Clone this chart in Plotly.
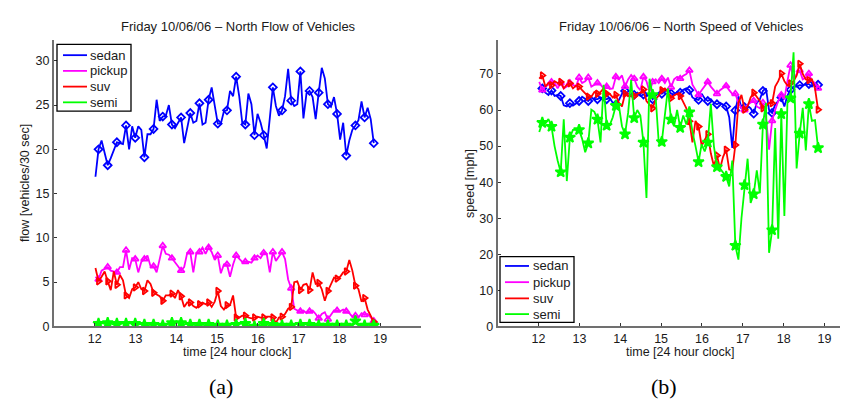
import plotly.graph_objects as go

W, H = 848, 404

# sample times: minutes after 12:00
minutes_after_noon = [
    1, 5.5, 10, 14.5, 19, 23.5, 28, 32.5, 37, 41.5,
    46, 50.5, 55, 59.5, 64, 68.5, 73, 77.5, 82, 86.5,
    91, 95.5, 100, 104.5, 109, 113.5, 118, 122.5, 127, 131.5,
    136, 140.5, 145, 149.5, 154, 158.5, 163, 167.5, 172, 176.5,
    181, 185.5, 190, 194.5, 199, 203.5, 208, 212.5, 217, 221.5,
    226, 230.5, 235, 239.5, 244, 248.5, 253, 257.5, 262, 266.5,
    271, 275.5, 280, 284.5, 289, 293.5, 298, 302.5, 307, 311.5,
    316, 320.5, 325, 329.5, 334, 338.5, 343, 347.5, 352, 356.5,
    361, 365.5, 370, 374.5, 379, 383.5, 388, 392.5, 397, 401.5,
    406, 410.5,
]
time_hr = [12 + m / 60 for m in minutes_after_noon]

# ---- flow [vehicles/30 sec] ----
flow_sedan = [
    16.9, 20.0, 21.0, 19.6, 18.2, 19.0, 20.0, 20.8, 20.7, 20.6,
    22.7, 20.0, 22.6, 21.3, 22.6, 22.2, 19.1, 21.7, 21.7, 22.3,
    25.6, 23.2, 23.7, 23.8, 25.0, 22.8, 22.4, 23.0, 23.6, 20.7,
    22.5, 24.1, 23.0, 23.2, 25.2, 22.8, 23.0, 25.6, 27.0, 25.0,
    22.9, 22.9, 24.3, 24.4, 26.6, 26.0, 28.2, 26.0, 23.0, 22.8,
    26.3, 25.1, 21.6, 24.0, 23.0, 21.6, 20.1, 23.5, 27.0, 24.9,
    23.8, 24.4, 26.0, 29.1, 25.5, 24.9, 25.1, 28.8, 23.5, 26.3,
    26.6, 25.9, 23.4, 26.4, 29.2, 28.0, 25.1, 24.8, 25.9, 24.0,
    21.1, 23.0, 19.3, 21.0, 22.2, 22.7, 23.3, 25.4, 23.6, 24.7,
    23.4, 20.7,
]
flow_pickup = [
    5.6, 5.3, 6.3, 6.5, 6.7, 6.3, 6.2, 6.1, 6.7, 6.7,
    8.6, 6.4, 7.7, 7.6, 6.1, 7.3, 7.6, 8.0, 6.8, 6.8,
    6.1, 7.5, 9.1, 8.2, 8.1, 7.7, 7.3, 6.8, 6.3, 6.7,
    8.3, 8.4, 6.1, 8.3, 8.4, 8.9, 8.2, 8.9, 8.4, 7.5,
    8.0, 6.0, 7.0, 7.0, 5.6, 7.0, 8.0, 7.6, 7.3, 7.3,
    7.3, 7.2, 7.7, 8.0, 7.7, 8.3, 8.2, 6.1, 8.4, 7.4,
    7.9, 8.4, 7.6, 5.3, 4.3, 2.0, 1.8, 1.7, 1.8, 1.5,
    1.7, 1.8, 1.4, 0.9, 1.4, 1.6, 0.8, 1.3, 1.8, 1.8,
    1.7, 1.9, 1.7, 1.5, 1.1, 1.2, 1.0, 1.5, 1.3, 1.4,
    1.0, 0.6,
]
flow_suv = [
    6.6, 5.1, 5.6, 6.2, 5.1, 4.1, 6.2, 4.7, 5.8, 5.2,
    3.5, 3.2, 4.2, 4.4, 5.0, 4.2, 4.0, 5.2, 4.8, 3.8,
    3.6, 3.4, 2.9, 3.5, 3.5, 3.7, 3.2, 4.1, 3.4, 2.2,
    2.7, 2.7, 2.3, 2.1, 2.5, 2.7, 2.5, 2.7, 2.2, 2.8,
    4.0, 2.3, 1.9, 2.4, 2.4, 3.5, 1.0, 1.0, 1.2, 1.2,
    1.0, 0.9, 1.0, 1.1, 1.0, 1.0, 1.1, 1.1, 1.0, 0.4,
    1.0, 1.1, 1.4, 2.0, 2.2, 5.0, 5.1, 4.1, 4.7, 4.8,
    4.1, 6.1, 4.8, 4.9, 4.2, 2.9, 4.0, 4.8, 5.5, 5.4,
    5.6, 6.1, 6.2, 7.5, 6.3, 4.6, 4.2, 2.8, 3.2, 1.9,
    1.2, 0.5,
]
flow_semi = [
    0.2, 0.3, 0.4, 0.3, 0.4, 0.3, 0.2, 0.3, 0.2, 0.4,
    0.3, 0.5, 0.2, 0.3, 0.2, 0.3, 0.2, 0.1, 0.2, 0.2,
    0.3, 0.1, 0.1, 0.2, 0.3, 0.4, 0.3, 0.5, 0.4, 0.2,
    0.3, 0.2, 0.2, 0.1, 0.2, 0.2, 0.1, 0.2, 0.1, 0.1,
    0.1, 0.2, 0.1, 0.1, 0.2, 0.3, 0.2, 0.4, 0.3, 0.3,
    0.1, 0.1, 0.0, 0.2, 0.1, 0.3, 0.2, 0.1, 0.2, 0.1,
    0.1, 0.1, 0.0, 0.1, 0.1, 0.2, 0.3, 0.2, 0.1, 0.3,
    0.2, 0.1, 0.1, 0.1, 0.0, 0.2, 0.1, 0.3, 0.1, 0.1,
    0.1, 0.0, 0.1, 0.1, 0.1, 0.6, 0.2, 0.1, 0.1, 0.3,
    0.1, 0.1,
]

# ---- speed [mph] ----
speed_sedan = [
    65.0, 66.0, 64.8, 64.2, 65.4, 63.9, 64.2, 63.9, 61.3, 61.0,
    61.9, 61.2, 61.8, 62.5, 63.7, 63.2, 62.5, 63.5, 63.0, 63.0,
    63.5, 63.0, 63.0, 63.3, 62.0, 61.5, 62.8, 64.5, 65.3, 64.0,
    63.8, 64.2, 64.8, 63.9, 64.3, 63.8, 64.5, 63.0, 64.0, 64.8,
    64.5, 65.2, 65.8, 64.6, 64.2, 65.0, 64.8, 65.6, 66.0, 65.5,
    63.5, 63.0, 62.8, 64.5, 63.2, 62.5, 63.0, 62.0, 61.6, 62.0,
    61.5, 61.0, 58.0, 49.5, 59.9, 63.8, 60.6, 60.8, 61.2, 60.5,
    59.0, 62.0, 63.0, 65.3, 66.0, 60.0, 59.2, 61.5, 62.5, 63.5,
    61.0, 64.0, 65.6, 66.5, 66.5, 66.9, 66.8, 67.2, 67.2, 66.5,
    67.5, 67.0,
]
speed_pickup = [
    67.8, 65.5, 66.5, 67.0, 67.8, 67.5, 66.0, 67.5, 66.0, 66.5,
    67.5, 67.0, 66.5, 69.0, 67.5, 68.0, 69.0, 66.5, 67.0, 67.5,
    67.0, 66.0, 66.5, 65.8, 66.0, 69.2, 68.5, 69.6, 66.5, 68.5,
    69.7, 68.7, 66.5, 65.5, 69.2, 68.0, 65.0, 67.8, 68.5, 67.5,
    68.7, 67.5, 69.0, 66.3, 68.5, 69.2, 68.7, 69.5, 70.0, 71.0,
    67.0, 65.5, 64.2, 65.5, 66.5, 67.8, 66.5, 65.5, 64.5, 65.5,
    66.0, 66.7, 65.5, 64.5, 64.5, 62.0, 60.5, 60.0, 61.5, 62.0,
    62.6, 61.0, 60.5, 62.0, 58.0, 49.0, 57.0, 60.0, 62.5, 64.2,
    63.0, 68.0, 72.4, 68.5, 70.0, 71.0, 68.5, 69.0, 70.1, 68.0,
    67.5, 66.0,
]
speed_suv = [
    68.7, 69.6, 66.5, 67.5, 66.9, 68.0, 67.5, 67.8, 66.0, 67.0,
    67.4, 66.0, 66.8, 66.5, 65.5, 64.5, 63.7, 63.7, 65.0, 64.5,
    65.0, 66.0, 64.5, 64.5, 63.5, 64.2, 62.0, 61.0, 64.5, 63.8,
    64.0, 63.9, 64.5, 64.8, 65.7, 62.5, 61.5, 60.5, 63.0, 64.0,
    65.5, 66.0, 65.0, 63.3, 64.0, 64.5, 63.9, 62.0, 60.5, 56.9,
    51.0, 57.0, 55.4, 50.1, 51.5, 53.3, 48.0, 44.5, 47.4, 43.7,
    47.0, 49.0, 43.5, 43.3, 50.3, 62.0, 64.2, 60.1, 61.0, 63.5,
    64.8, 63.5, 62.5, 60.5, 61.0, 62.0, 61.9, 66.5, 68.0, 70.1,
    68.0, 66.8, 67.4, 68.0, 69.5, 72.8, 70.0, 68.5, 68.3, 68.5,
    66.0, 60.1,
]
speed_semi = [
    53.9, 56.5, 56.3, 57.5, 55.4, 50.0, 46.0, 42.8, 57.4, 40.3,
    52.4, 54.5, 54.5, 54.5, 52.0, 48.3, 50.8, 60.1, 59.5, 57.4,
    51.0, 67.0, 55.7, 55.8, 58.0, 61.2, 61.2, 55.5, 53.3, 59.2,
    68.3, 57.8, 60.0, 58.5, 51.0, 35.6, 68.7, 64.2, 63.5, 51.0,
    51.2, 58.0, 66.0, 57.4, 55.5, 60.0, 55.1, 58.5, 56.0, 59.4,
    54.0, 50.0, 45.6, 50.5, 48.5, 51.0, 61.7, 50.0, 44.2, 43.8,
    42.5, 41.5, 38.8, 46.0, 22.4, 18.5, 30.0, 39.2, 46.5, 34.2,
    36.7, 43.3, 36.9, 56.0, 62.0, 20.4, 26.7, 55.0, 24.3, 58.9,
    30.6, 62.0, 63.3, 76.0, 43.8, 53.5, 60.6, 48.8, 61.7, 57.0,
    57.2, 49.5,
]

series_names = ["sedan", "pickup", "suv", "semi"]
flow_data = [flow_sedan, flow_pickup, flow_suv, flow_semi]
speed_data = [speed_sedan, speed_pickup, speed_suv, speed_semi]
colors = ["#0000ff", "#ff00ff", "#ff0000", "#00ff00"]
symbols = ["diamond-open", "triangle-up-open", "triangle-right-open", "star"]
msizes = [6, 6, 6, 8]

fig = go.Figure()

for name, fv, sv, col, sym, ms in zip(series_names, flow_data, speed_data, colors, symbols, msizes):
    for vals, xa, ya in ((fv, "x", "y"), (sv, "x2", "y2")):
        t = time_hr[:len(vals)]
        fig.add_trace(go.Scatter(
            x=t, y=vals, mode="lines", line=dict(color=col, width=1.8),
            xaxis=xa, yaxis=ya, showlegend=False, hoverinfo="skip"))
        fig.add_trace(go.Scatter(
            x=t[1::3], y=vals[1::3], mode="markers",
            marker=dict(symbol=sym, size=ms, color=col, line=dict(color=col, width=1.8)),
            xaxis=xa, yaxis=ya, showlegend=False, hoverinfo="skip"))

x_ticks = [12, 13, 14, 15, 16, 17, 18, 19]
flow_ticks = [0, 5, 10, 15, 20, 25, 30]
speed_ticks = [0, 10, 20, 30, 40, 50, 60, 70]

font_family = "Liberation Sans, Arial, sans-serif"
txt_color = "#1a1a1a"
axis_common = dict(
    showgrid=False, zeroline=False, showline=True, linecolor="#707070",
    linewidth=2, ticks="inside", ticklen=3, tickwidth=1, tickcolor="#333333",
    tickfont=dict(family=font_family, size=12.5, color=txt_color),
)

y_dom = [1 - 324 / H, 1 - 33 / H]
fig.update_layout(
    width=W, height=H,
    margin=dict(l=0, r=0, t=0, b=0),
    paper_bgcolor="white", plot_bgcolor="white",
    showlegend=False,
    font=dict(family=font_family, size=13, color=txt_color),
    xaxis=dict(domain=[46 / W, 413 / W], range=[11, 20], tickvals=x_ticks, anchor="y", **axis_common),
    yaxis=dict(domain=y_dom, range=[0, 32.3], tickvals=flow_ticks, anchor="x", **axis_common),
    xaxis2=dict(domain=[489.7 / W, 1.0], range=[11, 19.77], tickvals=x_ticks, anchor="y2", **axis_common),
    yaxis2=dict(domain=y_dom, range=[0, 79.3], tickvals=speed_ticks, anchor="x2", **axis_common),
)


def ann(text, x, y, size=13, angle=0, family=font_family, color=txt_color, xanchor="center"):
    fig.add_annotation(text=text, x=x / W, y=1 - y / H, xref="paper", yref="paper",
                       showarrow=False, textangle=angle, xanchor=xanchor, yanchor="middle",
                       font=dict(family=family, size=size, color=color))


# manual legends (box, line samples, labels) in pixel positions
def legend_box(x0, y0, x1, y1, line_x0, line_x1, text_x, rows):
    fig.add_shape(type="rect", xref="paper", yref="paper",
                  x0=x0 / W, x1=x1 / W, y0=1 - y0 / H, y1=1 - y1 / H,
                  line=dict(color="black", width=1.3), fillcolor="white", layer="above")
    for name, col, ry in zip(series_names, colors, rows):
        fig.add_shape(type="line", xref="paper", yref="paper",
                      x0=line_x0 / W, x1=line_x1 / W, y0=1 - ry / H, y1=1 - ry / H,
                      line=dict(color=col, width=1.8), layer="above")
        ann(name, text_x, ry, xanchor="left")


legend_box(49, 37, 123, 105, 55, 79, 80, [48, 64, 80, 96])
legend_box(492, 253, 566, 320, 497, 521, 523, [262.5, 279, 295.5, 311.5])

ann("Friday 10/06/06 \u2013 North Flow of Vehicles", 230, 19)
ann("Friday 10/06/06 \u2013 North Speed of Vehicles", 673, 19)
ann("time [24 hour clock]", 229, 350, size=12.5)
ann("time [24 hour clock]", 672, 350, size=12.5)
ann("flow [vehicles/30 sec]", 17, 178, angle=-90, size=12.5)
ann("speed [mph]", 462, 178, angle=-90, size=12.5)
ann("(a)", 213, 385, size=22, family="Liberation Serif, DejaVu Serif, serif", color="black")
ann("(b)", 656, 385, size=22, family="Liberation Serif, DejaVu Serif, serif", color="black")

fig.write_html("out.html")
